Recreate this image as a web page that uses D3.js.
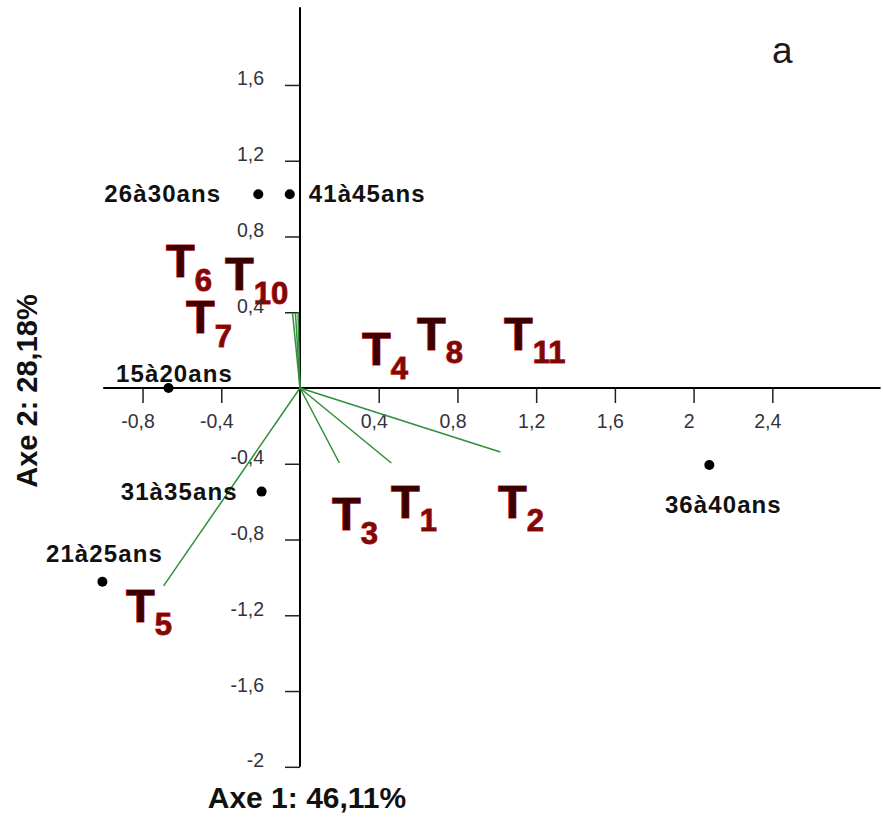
<!DOCTYPE html>
<html>
<head>
<meta charset="utf-8">
<script src="https://cdn.jsdelivr.net/npm/d3@7"></script>
<style>
  html, body { margin: 0; padding: 0; background: #fff; }
  svg { display: block; }
  .tick text { font-family: "Liberation Sans", Arial, sans-serif; }
</style>
</head>
<body>
<svg id="chart" width="883" height="819"></svg>
<script>
// Age groups (supplementary points) on the factorial plane
const ageGroups = ["26à30ans", "41à45ans", "15à20ans", "31à35ans", "21à25ans", "36à40ans"];
const ageAxis1  = [-0.212, -0.052, -0.668, -0.195, -1.004, 2.080];
const ageAxis2  = [ 1.023,  1.023,  0.000, -0.547, -1.023, -0.407];

// Term labels T1..T11
const terms      = ["T1", "T2", "T3", "T4", "T5", "T6", "T7", "T8", "T10", "T11"];
const termAxis1  = [0.462, 1.006, 0.163, 0.315, -0.884, -0.681, -0.579, 0.595, -0.381, 1.037];
const termAxis2  = [-0.686, -0.686, -0.750, 0.121, -1.235, 0.586, 0.290, 0.201, 0.517, 0.201];

// Variable vectors drawn from the origin
const vectors     = ["T1", "T2", "T3", "T5", "T6", "T7", "T10"];
const vectorAxis1 = [0.464, 1.018, 0.200, -0.693, -0.038, -0.023, -0.010];
const vectorAxis2 = [-0.396, -0.338, -0.396, -1.045, 0.396, 0.396, 0.400];

// Tick values
const xTicks = [-0.8, -0.4, 0.4, 0.8, 1.2, 1.6, 2, 2.4];
const yTicks = [1.6, 1.2, 0.8, 0.4, -0.4, -0.8, -1.2, -1.6, -2];

// Label placement around each age point
const agePlacement = {
  "26à30ans": { anchor: "end",    dx: -37, dy: 8 },
  "41à45ans": { anchor: "start",  dx: 19,  dy: 8 },
  "15à20ans": { anchor: "middle", dx: 6,   dy: -6 },
  "31à35ans": { anchor: "end",    dx: -24, dy: 8 },
  "21à25ans": { anchor: "middle", dx: 2,   dy: -20 },
  "36à40ans": { anchor: "middle", dx: 14,  dy: 48 }
};

const svg = d3.select("#chart");
const font = '"Liberation Sans", Arial, Helvetica, sans-serif';

const kx = 196.8, ky = 189.4, ox = 300, oy = 388;
const x = d3.scaleLinear().domain([-1, 3]).range([ox - kx, ox + 3 * kx]);
const y = d3.scaleLinear().domain([-2, 2]).range([oy + 2 * ky, oy - 2 * ky]);

const fmt = d => String(d).replace(".", ",");

// Term labels (T with subscript index)
const termG = svg.append("g");
terms.forEach((t, i) => {
  const txt = termG.append("text")
    .attr("x", x(termAxis1[i]))
    .attr("y", y(termAxis2[i]))
    .attr("font-family", font)
    .attr("font-weight", "bold");
  txt.append("tspan")
    .text("T")
    .attr("font-size", 47)
    .attr("fill", "#3c0000")
    .attr("stroke", "#c81c1c")
    .attr("stroke-width", 1.2)
    .attr("paint-order", "stroke");
  txt.append("tspan")
    .text(t.slice(1))
    .attr("dy", 13.5)
    .attr("font-size", 31)
    .attr("fill", "#7d0808")
    .attr("stroke", "#d42222")
    .attr("stroke-width", 1)
    .attr("paint-order", "stroke");
});

// X axis (ticks below the horizontal line)
const xAxis = d3.axisBottom(x).tickValues(xTicks).tickFormat(fmt).tickSize(15).tickSizeOuter(0);
const gx = svg.append("g").attr("transform", `translate(0,${oy})`).call(xAxis);
gx.select(".domain").remove();
gx.selectAll(".tick line").attr("stroke", "#222").attr("stroke-width", 1.5);
gx.selectAll(".tick text")
  .attr("font-size", 19.5)
  .attr("fill", "#33333d")
  .attr("dx", -5)
  .attr("y", 40)
  .attr("dy", 0);

// Y axis (ticks to the left of the vertical line)
const yAxis = d3.axisLeft(y).tickValues(yTicks).tickFormat(fmt).tickSize(15).tickSizeOuter(0);
const gy = svg.append("g").attr("transform", `translate(${ox},0)`).call(yAxis);
gy.select(".domain").remove();
gy.selectAll(".tick line").attr("stroke", "#222").attr("stroke-width", 1.5);
gy.selectAll(".tick text")
  .attr("font-size", 19.5)
  .attr("fill", "#33333d")
  .attr("x", -36)
  .attr("dy", -1)
  .attr("dominant-baseline", "auto")
  .attr("y", 1);

// Main axis lines
svg.append("line")
  .attr("x1", x(-1.0)).attr("x2", x(2.95))
  .attr("y1", y(0)).attr("y2", y(0))
  .attr("stroke", "#000").attr("stroke-width", 2);
svg.append("line")
  .attr("x1", x(0)).attr("x2", x(0))
  .attr("y1", y(-2)).attr("y2", y(2.01))
  .attr("stroke", "#000").attr("stroke-width", 2);

// Vectors
svg.append("g").selectAll("line")
  .data(vectors.map((v, i) => ({ v, a: vectorAxis1[i], b: vectorAxis2[i] })))
  .join("line")
  .attr("x1", x(0)).attr("y1", y(0))
  .attr("x2", d => x(d.a)).attr("y2", d => y(d.b))
  .attr("stroke", "#2f8f3a")
  .attr("stroke-width", 1.5);

// Age points and their labels
const ages = ageGroups.map((g, i) => ({ g, a: ageAxis1[i], b: ageAxis2[i] }));
svg.append("g").selectAll("circle")
  .data(ages)
  .join("circle")
  .attr("cx", d => x(d.a)).attr("cy", d => y(d.b))
  .attr("r", 5)
  .attr("fill", "#000");
svg.append("g").selectAll("text")
  .data(ages)
  .join("text")
  .attr("x", d => x(d.a) + agePlacement[d.g].dx)
  .attr("y", d => y(d.b) + agePlacement[d.g].dy)
  .attr("text-anchor", d => agePlacement[d.g].anchor)
  .attr("font-family", font)
  .attr("font-weight", "bold")
  .attr("font-size", 24)
  .attr("letter-spacing", 1.1)
  .attr("fill", "#111")
  .text(d => d.g);

// Panel letter
svg.append("text")
  .attr("x", 772).attr("y", 63)
  .attr("font-family", font)
  .attr("font-size", 37)
  .attr("fill", "#1a1a1a")
  .text("a");

// Axis titles
svg.append("text")
  .attr("x", 307).attr("y", 808)
  .attr("text-anchor", "middle")
  .attr("font-family", font)
  .attr("font-weight", "bold")
  .attr("font-size", 30)
  .attr("fill", "#111")
  .text("Axe 1: 46,11%");
svg.append("text")
  .attr("transform", "translate(37,391) rotate(-90)")
  .attr("text-anchor", "middle")
  .attr("font-family", font)
  .attr("font-weight", "bold")
  .attr("font-size", 29)
  .attr("fill", "#111")
  .text("Axe 2: 28,18%");
</script>
</body>
</html>
